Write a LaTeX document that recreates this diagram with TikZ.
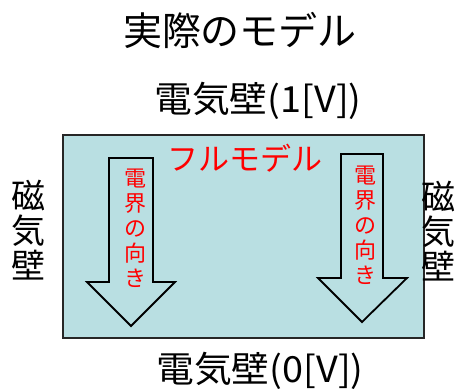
\documentclass[tikz,border=0pt]{standalone}
\usepackage{fontspec}
\setmainfont{Noto Sans CJK JP}
\definecolor{panel}{RGB}{185,223,226}
\definecolor{fieldred}{RGB}{255,0,0}
\begin{document}
\begin{tikzpicture}[x=1pt,y=-1pt,
  lbl/.style={inner sep=0pt, anchor=center, text=black},
  redlbl/.style={inner sep=0pt, anchor=center, text=fieldred},
  arrowshape/.style={fill=panel, draw=black, line width=1.8pt, line join=miter},
  panelbox/.style={fill=panel, draw=black!85, line width=1.5pt}]
\useasboundingbox (0,0) rectangle (456,390);
\draw[panelbox] (63,135) rectangle (424,338);
\draw[arrowshape] (109,158) -- (153,158) -- (153,282) -- (175,282) -- (131,326) -- (87,282) -- (109,282) -- cycle;
\draw[arrowshape] (341,154) -- (383,154) -- (383,278) -- (407,278) -- (362,322) -- (318,278) -- (341,278) -- cycle;
\node[lbl, font=\fontsize{39}{39}\selectfont] (title) at (240,30) {実際のモデル};
\node[lbl, font=\fontsize{36}{36}\selectfont, xscale=1.05] (top) at (258,101) {電気壁(1[V])};
\node[lbl, font=\fontsize{36}{36}\selectfont, xscale=1.05] (bottom) at (260,371) {電気壁(0[V])};
\node[lbl, align=center, font=\fontsize{34}{35}\selectfont] (leftwall) at (29,230) {磁\\気\\壁};
\node[lbl, align=center, font=\fontsize{34}{35}\selectfont] (rightwall) at (438,231) {磁\\気\\壁};
\node[redlbl, font=\fontsize{31}{31}\selectfont] (full) at (245,158) {フルモデル};
\node[redlbl, align=center, font=\fontsize{22}{25}\selectfont] (leftfield) at (135,228) {電\\界\\の\\向\\き};
\node[redlbl, align=center, font=\fontsize{22}{25}\selectfont] (rightfield) at (365,225) {電\\界\\の\\向\\き};
\end{tikzpicture}
\end{document}
